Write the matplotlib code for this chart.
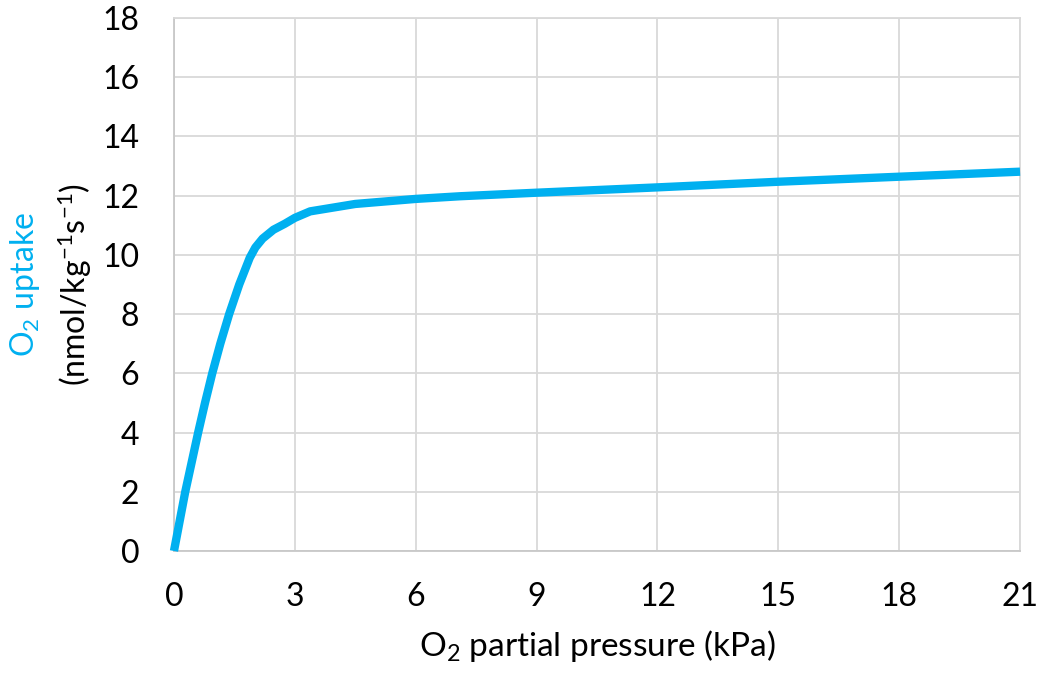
import matplotlib
matplotlib.use("Agg")
import matplotlib.pyplot as plt

plt.rcParams['font.family'] = ['Lato', 'DejaVu Sans']
plt.rcParams['mathtext.fontset'] = 'custom'
plt.rcParams['mathtext.rm'] = 'Lato'
plt.rcParams['mathtext.it'] = 'Lato:italic'

# O2 partial pressure (kPa) vs O2 uptake
pressure = [0, 0.28, 0.44, 0.6, 0.77, 0.95, 1.15, 1.37, 1.62, 1.88, 2.02, 2.2, 2.47, 2.75, 3.0, 3.38,
            4.5, 6.0, 7.1, 9.0, 12.0, 15.0, 18.0, 21.0]
uptake = [0, 2.0, 3.0, 4.0, 5.0, 6.0, 7.0, 8.0, 9.0, 9.9, 10.25, 10.55, 10.85, 11.05, 11.25, 11.47,
          11.72, 11.89, 11.98, 12.1, 12.28, 12.47, 12.64, 12.81]

x_ticks = [0, 3, 6, 9, 12, 15, 18, 21]
y_ticks = [0, 2, 4, 6, 8, 10, 12, 14, 16, 18]

fig = plt.figure(figsize=(10.43, 6.74), dpi=100)
ax = fig.add_axes([0.1668, 0.1825, 0.8112, 0.7908])

ax.plot(pressure, uptake, color='#00b0f0', lw=6, solid_capstyle='butt',
        solid_joinstyle='round', zorder=3, clip_on=False)

ax.set_xlim(0, 21)
ax.set_ylim(0, 18)
ax.set_xticks(x_ticks)
ax.set_yticks(y_ticks)
ax.grid(True, color='#d9d9d9', lw=1.3)
ax.set_axisbelow(True)
for s in ax.spines.values():
    s.set_color('#d9d9d9')
    s.set_linewidth(1.3)
ax.spines['left'].set_color('#c8c8c8')
ax.spines['bottom'].set_color('#c8c8c8')
ax.tick_params(length=0, labelsize=23, colors='black')
ax.tick_params(axis='x', pad=22)
ax.tick_params(axis='y', pad=25)

ax.set_xlabel('O$_2$ partial pressure (kPa)', fontsize=24, labelpad=12)

fig.text(0.024, 0.578, 'O$_2$ uptake', rotation=90, color='#00b0f0',
         fontsize=23, ha='center', va='center')
fig.text(0.072, 0.578, '(nmol/kg$^{-1}$s$^{-1}$)', rotation=90, color='black',
         fontsize=23, ha='center', va='center')

fig.savefig('out.png', dpi=100)
